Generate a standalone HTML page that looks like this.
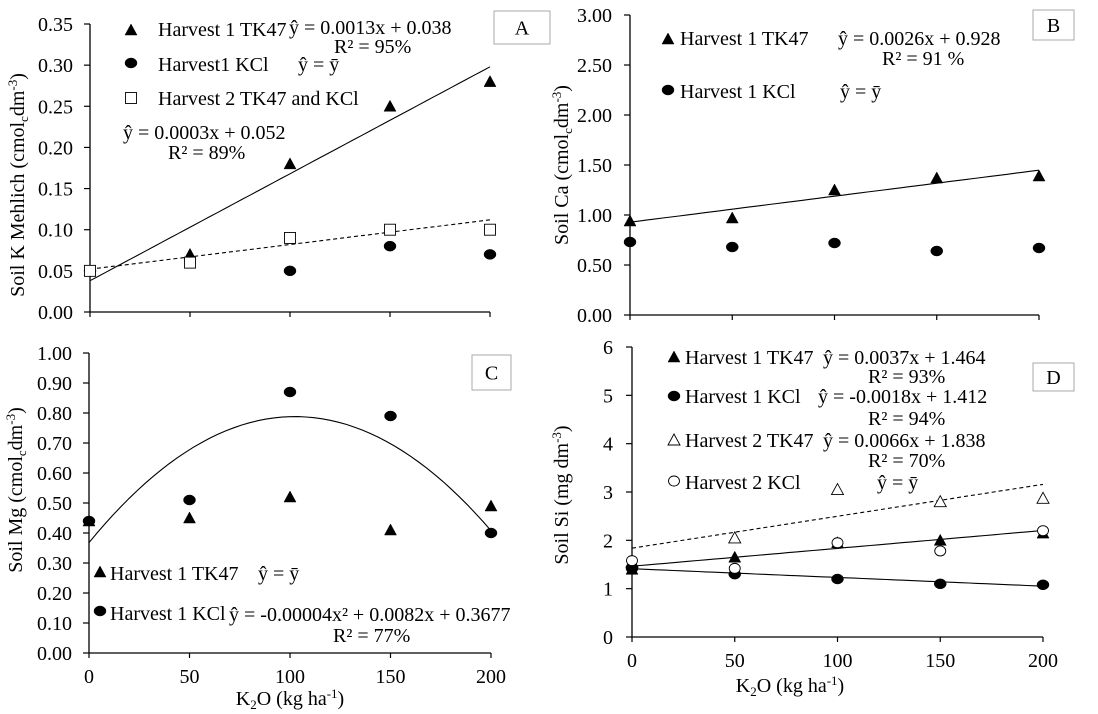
<!DOCTYPE html>
<html><head><meta charset="utf-8"><style>
html,body{margin:0;padding:0;background:#fff}
svg{display:block;font-family:"Liberation Serif",serif;}
text{fill:#000}
</style></head><body>
<svg id="fig" width="1098" height="714" viewBox="0 0 1098 714" xmlns="http://www.w3.org/2000/svg"></svg>
<script>
const xCats=[0,50,100,150,200];
// Panel A
const aTicks=["0.00","0.05","0.10","0.15","0.20","0.25","0.30","0.35"];
const aTK47=[0.05,0.07,0.18,0.25,0.28];
const aKCl=[0.05,null,0.05,0.08,0.07];
const aH2=[0.05,0.06,0.09,0.10,0.10];
// Panel B
const bTicks=["0.00","0.50","1.00","1.50","2.00","2.50","3.00"];
const bTK47=[0.94,0.97,1.25,1.37,1.39];
const bKCl=[0.73,0.68,0.72,0.64,0.67];
// Panel C
const cTicks=["0.00","0.10","0.20","0.30","0.40","0.50","0.60","0.70","0.80","0.90","1.00"];
const cTK47=[0.44,0.45,0.52,0.41,0.49];
const cKCl=[0.44,0.51,0.87,0.79,0.40];
// Panel D
const dTicks=["0","1","2","3","4","5","6"];
const dH1TK47=[1.40,1.65,1.95,2.00,2.15];
const dH1KCl=[1.42,1.30,1.20,1.10,1.08];
const dH2TK47=[1.55,2.05,3.05,2.80,2.87];
const dH2KCl=[1.58,1.42,1.95,1.78,2.20];

const FS=20;
const NS="http://www.w3.org/2000/svg";
const svg=document.getElementById('fig');
function el(tag,attrs,parent,txt){const e=document.createElementNS(NS,tag);for(const k in attrs)e.setAttribute(k,attrs[k]);if(txt!==undefined)e.textContent=txt;(parent||svg).appendChild(e);return e;}

function panel(name,x0,x1,yTop,yBot,ymax,ticks,showXLabels,tickGap){
  const g=el('g',{});
  
  
  const sx=v=>x0+(x1-x0)*v/200;
  const sy=v=>yBot-(yBot-yTop)*v/ymax;
  const ax=el('path',{d:`M${x0} ${yTop} V${yBot} H${x1}`,stroke:'#000','stroke-width':1.3,fill:'none'},g);
  
  
  ticks.forEach((t,i)=>{const y=sy(ymax*i/(ticks.length-1));
    el('line',{x1:x0-6,x2:x0,y1:y,y2:y,stroke:'#000','stroke-width':1.2},g);
    const tl=el('text',{x:x0-tickGap,y:y+7,'text-anchor':'end','font-size':FS},g,t);
    
    
  });
  xCats.forEach(c=>{const x=sx(c);el('line',{x1:x,x2:x,y1:yBot,y2:yBot+5,stroke:'#000','stroke-width':1.2},g);
    if(showXLabels){const tl=el('text',{x:x,y:yBot+30,'text-anchor':'middle','font-size':FS},g,String(c));
      
      }
  });
  return {g,sx,sy};
}
function marker(g,type,x,y){
  let m;
  if(type==='tri'||type==='otri'){m=el('path',{d:`M${x} ${y-6} L${x+6} ${y+5} L${x-6} ${y+5} Z`,fill:type==='tri'?'#000':'#fff',stroke:'#000','stroke-width':type==='tri'?0.5:0.9},g);}
  else if(type==='dot'||type==='odot'){m=el('ellipse',{cx:x,cy:y,rx:type==='dot'?6:5.5,ry:5,fill:type==='dot'?'#000':'#fff',stroke:'#000','stroke-width':type==='dot'?0.5:0.9},g);}
  else {m=el('rect',{x:x-5.5,y:y-5.5,width:11,height:11,fill:'#fff',stroke:'#000','stroke-width':0.9},g);}
  return m;
}
function series(p,vals,type,name){
  vals.forEach((v,i)=>{if(v===null)return;const m=marker(p.g,type,p.sx(xCats[i]),p.sy(v));
    
    });
}
function fit(p,f,dash,name){
  let d='';for(let x=0;x<=200;x+=4){d+=(x?'L':'M')+p.sx(x).toFixed(1)+' '+p.sy(f(x)).toFixed(1)+' ';}
  const l=el('path',{d,stroke:'#000','stroke-width':1.1,fill:'none','stroke-dasharray':dash?'4 3':'none'},p.g);
  
  
}
function txt(x,y,s,sz,name,anchor){const t=el('text',{x,y,'font-size':sz||FS,'text-anchor':anchor||'start'},svg,s);
  
  return t;}
function box(x,y,w,h,lbl,name){const r=el('rect',{x,y,width:w,height:h,fill:'#fff',stroke:'#aaa','stroke-width':1});
  
  
  txt(x+w/2,y+h/2+7,lbl,FS,name+'-text','middle');}
function ylab(cx,cy,html,name){const t=el('text',{transform:`translate(${cx},${cy}) rotate(-90)`,'text-anchor':'middle','font-size':FS});
  t.innerHTML=html;
  
  }
const UNIT='(cmol<tspan font-size="13" dy="4">c</tspan><tspan dy="-4">dm</tspan><tspan font-size="13" dy="-7">-3</tspan><tspan dy="7">)</tspan>';

// A
const A=panel('a',90,490,24,312,0.35,aTicks,false,17);
fit(A,x=>0.038+0.0013*x,false,'fit-line-a-tk47');
fit(A,x=>0.052+0.0003*x,true,'fit-line-a-harvest2');
series(A,aTK47,'tri','a-tk47');series(A,aKCl,'dot','a-kcl');series(A,aH2,'sq','a-harvest2');
marker(svg,'tri',131,30);txt(158,36,'Harvest 1 TK47',FS,'legend-entry');
txt(289,34,'ŷ = 0.0013x + 0.038',FS,'equation');txt(334,53,'R² = 95%',FS,'r-squared');
marker(svg,'dot',131,63);txt(158,71,'Harvest1 KCl',FS,'legend-entry');txt(298,71,'ŷ = ȳ',FS,'equation');
marker(svg,'sq',131,98);txt(158,105,'Harvest 2 TK47 and KCl',FS,'legend-entry');
txt(123,139,'ŷ = 0.0003x + 0.052',FS,'equation');txt(168,159,'R² = 89%',FS,'r-squared');
box(494,11,56,33,'A','panel-label-a');
ylab(24,185,'Soil K Mehlich '+UNIT,'y-axis-title-a');

// B
const B=panel('b',630,1039,15,315,3,bTicks,false,18);
fit(B,x=>0.928+0.0026*x,false,'fit-line-b-tk47');
series(B,bTK47,'tri','b-tk47');series(B,bKCl,'dot','b-kcl');
marker(svg,'tri',668,39);txt(680,45,'Harvest 1 TK47',FS,'legend-entry');
txt(838,45,'ŷ = 0.0026x + 0.928',FS,'equation');txt(882,65,'R² = 91 %',FS,'r-squared');
marker(svg,'dot',668,90);txt(680,98,'Harvest 1 KCl',FS,'legend-entry');txt(840,98,'ŷ = ȳ',FS,'equation');
box(1033,10,41,30,'B','panel-label-b');
ylab(568,165,'Soil Ca '+UNIT,'y-axis-title-b');

// C
const C=panel('c',89,491,353,653,1,cTicks,true,17);
fit(C,x=>-0.00004*x*x+0.0082*x+0.3677,false,'fit-curve-c-kcl');
series(C,cTK47,'tri','c-tk47');series(C,cKCl,'dot','c-kcl');
marker(svg,'tri',100,572);txt(110,580,'Harvest 1 TK47',FS,'legend-entry');txt(258,580,'ŷ = ȳ',FS,'equation');
marker(svg,'dot',100,611);txt(110,620,'Harvest 1 KCl',FS,'legend-entry');
txt(229,621,'ŷ = -0.00004x² + 0.0082x + 0.3677',FS,'equation');txt(333,642,'R² = 77%',FS,'r-squared');
box(472,355,39,35,'C','panel-label-c');
ylab(22,490,'Soil Mg '+UNIT,'y-axis-title-c');
txt(290,705,'',FS,'x-axis-title-c','middle').innerHTML='K<tspan font-size="13" dy="4">2</tspan><tspan dy="-4">O  (kg ha</tspan><tspan font-size="13" dy="-7">-1</tspan><tspan dy="7">)</tspan>';

// D
const D=panel('d',632,1043,347,637,6,dTicks,true,19);
fit(D,x=>1.838+0.0066*x,true,'fit-line-d-h2tk47');
fit(D,x=>1.464+0.0037*x,false,'fit-line-d-h1tk47');
fit(D,x=>1.412-0.0018*x,false,'fit-line-d-h1kcl');
series(D,dH2TK47,'otri','d-h2-tk47');series(D,dH1TK47,'tri','d-h1-tk47');series(D,dH1KCl,'dot','d-h1-kcl');series(D,dH2KCl,'odot','d-h2-kcl');
marker(svg,'tri',674,357);txt(685,364,'Harvest 1 TK47',FS,'legend-entry');txt(823,364,'ŷ = 0.0037x + 1.464',FS,'equation');txt(868,383,'R² = 93%',FS,'r-squared');
marker(svg,'dot',674,396);txt(685,403,'Harvest 1 KCl',FS,'legend-entry');txt(818,403,'ŷ = -0.0018x + 1.412',FS,'equation');txt(868,425,'R² = 94%',FS,'r-squared');
marker(svg,'otri',674,440);txt(685,447,'Harvest 2 TK47',FS,'legend-entry');txt(823,447,'ŷ = 0.0066x + 1.838',FS,'equation');txt(868,467,'R² = 70%',FS,'r-squared');
marker(svg,'odot',674,481);txt(685,489,'Harvest 2 KCl',FS,'legend-entry');txt(877,489,'ŷ = ȳ',FS,'equation');
box(1033,363,41,28,'D','panel-label-d');
ylab(568,495,'Soil Si (mg dm<tspan font-size="13" dy="-7">-3</tspan><tspan dy="7">)</tspan>','y-axis-title-d');
txt(790,692,'',FS,'x-axis-title-d','middle').innerHTML='K<tspan font-size="13" dy="4">2</tspan><tspan dy="-4">O  (kg ha</tspan><tspan font-size="13" dy="-7">-1</tspan><tspan dy="7">)</tspan>';
</script>
</body></html>
